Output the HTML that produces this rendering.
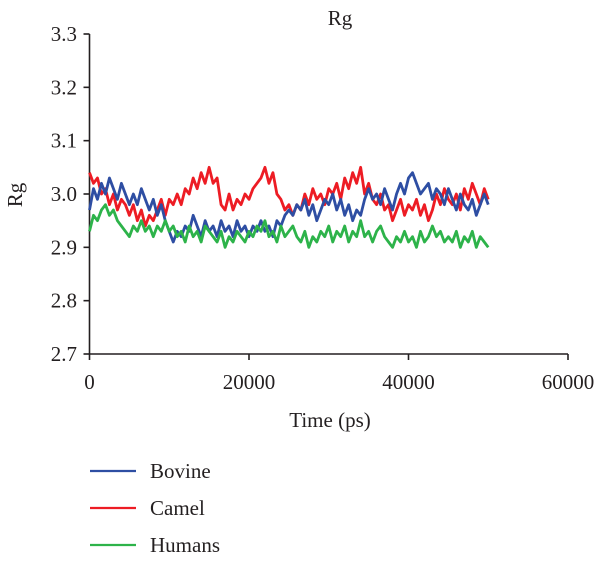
<!DOCTYPE html>
<html><head><meta charset="utf-8">
<style>
html,body{margin:0;padding:0;background:#fff;}
svg text{font-family:"Liberation Serif",serif;fill:#231f20;}
</style></head>
<body>
<svg id="chart" width="600" height="559" viewBox="0 0 600 559" xmlns="http://www.w3.org/2000/svg">
<text x="340" y="25" font-size="21" text-anchor="middle">Rg</text>
<text transform="translate(22,195) rotate(-90)" font-size="21" text-anchor="middle">Rg</text>
<text x="330" y="427" font-size="21" text-anchor="middle">Time (ps)</text>
<g id="axes"></g>
<g id="series"></g>
<g id="legend"></g>
</svg>
<script>
const xTicks=[0,20000,40000,60000];
const yTicks=[2.7,2.8,2.9,3.0,3.1,3.2,3.3];
const yTickLabels=["2.7","2.8","2.9","3.0","3.1","3.2","3.3"];
const seriesNames=["Bovine","Camel","Humans"];
const timeStep=500;
const camel=[3.04,3.02,3.03,3.00,3.01,2.98,3.00,2.97,2.99,2.98,2.96,
2.98,2.95,2.97,2.94,2.96,2.95,2.97,2.99,2.96,2.99,
2.98,3.00,2.98,3.01,3.00,3.03,3.01,3.04,3.02,3.05,
3.02,3.03,2.98,2.97,3.00,2.97,2.99,2.98,3.00,2.99,
3.01,3.02,3.03,3.05,3.02,3.04,3.00,2.99,2.97,2.98,
2.96,2.98,2.97,3.00,2.98,3.01,2.99,3.00,2.98,3.01,
3.00,3.02,2.99,3.03,3.01,3.04,3.02,3.05,3.00,3.02,
2.99,2.98,3.00,2.97,2.98,2.95,2.97,2.99,2.96,2.98,
2.97,2.99,2.96,2.98,2.95,2.97,3.00,2.98,3.01,2.99,
2.98,3.00,2.97,3.01,2.99,3.02,3.00,2.98,3.01,2.99];
const bovine=[2.97,3.01,2.99,3.02,3.00,3.03,3.01,2.99,3.02,3.00,2.98,
3.00,2.98,3.01,2.99,2.97,2.99,2.96,2.98,2.95,2.93,
2.91,2.93,2.92,2.94,2.93,2.96,2.94,2.92,2.95,2.93,
2.94,2.92,2.95,2.93,2.94,2.92,2.95,2.93,2.94,2.92,
2.94,2.93,2.95,2.93,2.94,2.92,2.95,2.94,2.96,2.97,
2.96,2.98,2.97,2.99,2.96,2.98,2.95,2.97,2.99,2.98,
3.00,2.97,2.99,2.96,2.98,2.95,2.97,2.96,2.99,3.01,
2.99,3.00,2.98,3.01,2.99,2.97,3.00,3.02,3.00,3.03,
3.04,3.02,3.00,3.01,3.02,2.99,3.01,3.00,2.98,3.01,
2.99,2.97,3.00,2.98,2.97,2.99,2.96,2.98,3.00,2.98];
const humans=[2.93,2.96,2.95,2.97,2.98,2.96,2.97,2.95,2.94,2.93,2.92,
2.94,2.93,2.95,2.93,2.94,2.92,2.94,2.93,2.95,2.93,
2.94,2.92,2.93,2.91,2.94,2.92,2.93,2.91,2.94,2.93,
2.92,2.91,2.93,2.90,2.92,2.91,2.93,2.92,2.91,2.93,
2.92,2.94,2.93,2.95,2.92,2.93,2.91,2.94,2.92,2.93,
2.94,2.92,2.91,2.93,2.90,2.92,2.91,2.93,2.92,2.94,
2.91,2.93,2.92,2.94,2.91,2.93,2.92,2.95,2.92,2.93,
2.91,2.93,2.94,2.92,2.91,2.90,2.92,2.91,2.93,2.91,
2.92,2.90,2.93,2.91,2.92,2.94,2.92,2.93,2.91,2.92,
2.91,2.93,2.90,2.92,2.91,2.93,2.90,2.92,2.91,2.90];

const NS="http://www.w3.org/2000/svg";
const X0=89.5,X1=568,Y0=354,Y1=34;
function sx(v){return X0+(v-0)/(60000-0)*(X1-X0);}
function sy(v){return Y0-(v-2.7)/(3.3-2.7)*(Y0-Y1);}
function mk(tag,attrs,parent){const e=document.createElementNS(NS,tag);for(const k in attrs)e.setAttribute(k,attrs[k]);parent.appendChild(e);return e;}
const axes=document.getElementById('axes');
let yl=mk('line',{x1:X0,y1:Y1,x2:X0,y2:Y0,stroke:'#231f20','stroke-width':1.6},axes);


let xl=mk('line',{x1:X0,y1:Y0,x2:X1,y2:Y0,stroke:'#231f20','stroke-width':1.6},axes);


yTicks.forEach((v,i)=>{
  const y=sy(v);
  let t=mk('line',{x1:X0-6,y1:y,x2:X0,y2:y,stroke:'#231f20','stroke-width':1.6},axes);
  
  
  let l=mk('text',{x:77,y:y+7,'font-size':21,'text-anchor':'end'},axes);
  l.textContent=yTickLabels[i];
  
  
});
xTicks.forEach(v=>{
  const x=sx(v);
  let t=mk('line',{x1:x,y1:Y0,x2:x,y2:Y0+6,stroke:'#231f20','stroke-width':1.6},axes);
  
  
  let l=mk('text',{x:x,y:Y0+35,'font-size':21,'text-anchor':'middle'},axes);
  l.textContent=String(v);
  
  
});
const sg=document.getElementById('series');
function draw(arr,color,name){
  const d=arr.map((v,i)=>(i?'L':'M')+sx(i*timeStep).toFixed(2)+','+sy(v).toFixed(2)).join('');
  const p=mk('path',{d:d,fill:'none',stroke:color,'stroke-width':2.8,'stroke-linejoin':'round'},sg);
  
  
}
draw(camel,'#ed1c24','camel-line');
draw(bovine,'#2e4ea3','bovine-line');
draw(humans,'#2db34a','humans-line');
const lg=document.getElementById('legend');
const colors=['#2e4ea3','#ed1c24','#2db34a'];
seriesNames.forEach((n,i)=>{
  const y=471+i*37;
  let s=mk('line',{x1:90,y1:y,x2:136,y2:y,stroke:colors[i],'stroke-width':2.2},lg);
  
  
  let t=mk('text',{x:150,y:y+7,'font-size':21},lg);
  t.textContent=n;
  
  
});
</script>
</body></html>
